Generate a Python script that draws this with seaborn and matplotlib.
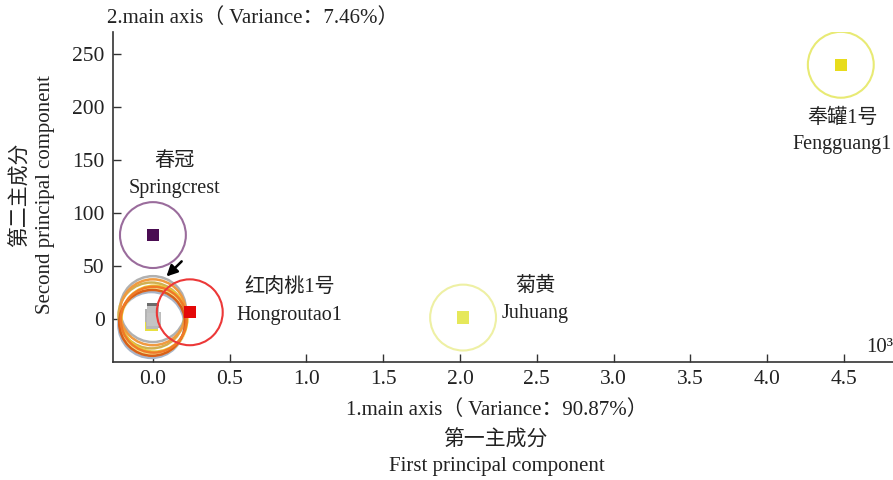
import matplotlib
matplotlib.use("Agg")
import matplotlib.pyplot as plt
import seaborn as sns
import pandas as pd

sns.set_theme(style="white")
plt.rcParams["font.family"] = ["Liberation Serif", "Noto Sans CJK SC", "DejaVu Sans"]

# PCA scores (first component in units of 10^3)
cultivars = ["Springcrest", "Hongroutao1", "Juhuang", "Fengguang1"]
labels_cn = ["春冠", "红肉桃1号", "菊黄", "奉罐1号"]
pc1 = [0.0, 0.24, 2.02, 4.48]
pc2 = [79, 6, 1, 240]
square_colors = ["#4a0c52", "#e40808", "#e6e85a", "#e8dc1c"]
ring_colors = ["#9a6c9c", "#ec3838", "#eef0a4", "#e8ea74"]

# unlabeled group of samples crowded near the origin
group_pc1 = [-0.01, 0.0, 0.005, -0.01, 0.01, 0.0, -0.005, 0.005]
group_pc2 = [-6, 9, -3, 3, 0, 6, -4, -1]
group_ring_colors = ["#a8b4c8", "#b0b0b0", "#f4e48c", "#d0b050", "#e8c838",
                     "#f09a40", "#d86018", "#f07a28"]
group_square_colors = ["#e8e040", "#6c6c6c", "#a8a8a8", "#b4b4b4", "#bcbcbc",
                       "#c0c0c0", "#b8b8b8", "#c4c4c4"]

xticks = [0.0, 0.5, 1.0, 1.5, 2.0, 2.5, 3.0, 3.5, 4.0, 4.5]
yticks = [0, 50, 100, 150, 200, 250]

fig = plt.figure(figsize=(8.93, 4.80), dpi=100)
ax = fig.add_axes([113 / 893, 118 / 480, 780 / 893, 330 / 480])

RING = 2250
SQ = 80

# rings around the origin group
ax.scatter(group_pc1, group_pc2, s=RING, facecolors="none",
           edgecolors=group_ring_colors, linewidths=1.8, zorder=2)
grp = pd.DataFrame({"pc1": group_pc1, "pc2": group_pc2,
                    "id": [f"g{i}" for i in range(len(group_pc1))]})
sns.scatterplot(data=grp, x="pc1", y="pc2", hue="id",
                palette=dict(zip(grp["id"], group_square_colors)),
                marker="s", s=SQ, linewidth=0, legend=False, ax=ax, zorder=3)

# labeled cultivars
df = pd.DataFrame({"pc1": pc1, "pc2": pc2, "cultivar": cultivars})
ax.scatter(pc1, pc2, s=RING, facecolors="none", edgecolors=ring_colors,
           linewidths=1.5, zorder=4)
sns.scatterplot(data=df, x="pc1", y="pc2", hue="cultivar",
                palette=dict(zip(cultivars, square_colors)),
                marker="s", s=SQ, linewidth=0, legend=False, ax=ax, zorder=5)

# cultivar name labels (Chinese above, English below)
label_offsets = [(0.14, 136), (0.89, 16), (2.49, 18), (4.49, 177)]
for (lx, ly), cn, en in zip(label_offsets, labels_cn, cultivars):
    ax.text(lx, ly, f"{cn}\n{en}", ha="center", va="center",
            fontsize=14.5, color="#222222", linespacing=1.55, zorder=6)

ax.annotate("", xy=(0.075, 38), xytext=(0.2, 56),
            arrowprops=dict(arrowstyle="-|>", color="black", lw=1.8,
                            mutation_scale=16), zorder=7)

ax.set_xlim(-0.26, 4.82)
ax.set_ylim(-41, 271)
ax.set_xticks(xticks)
ax.set_xticklabels([f"{t:.1f}" for t in xticks])
ax.set_yticks(yticks)
ax.set_yticklabels([str(t) for t in yticks])
ax.tick_params(axis="both", direction="in", length=6, width=1, colors="#333333",
               labelsize=15.5, labelcolor="#222222", pad=6)
ax.tick_params(axis="x", bottom=True)
ax.tick_params(axis="y", left=True)
ax.set_xlabel("")
ax.set_ylabel("")
for side in ["top", "right"]:
    ax.spines[side].set_visible(False)
for side in ["left", "bottom"]:
    ax.spines[side].set_color("#333333")
    ax.spines[side].set_linewidth(1.2)

def fx(px):
    return px / 893

def fy(py):
    return 1 - py / 480

txt = dict(color="#222222", fontsize=15)
fig.text(fx(107), fy(18), "2.main axis（ Variance：7.46%）", ha="left", va="center", **txt)
fig.text(fx(497), fy(410), "1.main axis（ Variance：90.87%）", ha="center", va="center", **txt)
fig.text(fx(495), fy(441), "第一主成分", ha="center", va="center", **txt)
fig.text(fx(497), fy(466), "First principal component", ha="center", va="center", **txt)
fig.text(fx(21), fy(195), "第二主成分", ha="center", va="center", rotation=90, **txt)
fig.text(fx(46), fy(195), "Second principal component", ha="center", va="center", rotation=90, **txt)
fig.text(fx(866), fy(347), "10³", ha="left", va="center", **txt)

fig.savefig("out.png", dpi=100)
